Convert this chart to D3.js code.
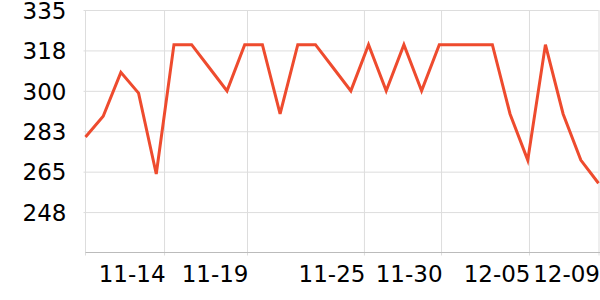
<!DOCTYPE html>
<html>
<head>
<meta charset="utf-8">
<script src="https://cdn.jsdelivr.net/npm/d3@7"></script>
<style>
  body { margin: 0; background: #fff; }
  svg { display: block; }
</style>
</head>
<body>
<div id="chart"></div>
<script>
// values, one per point (evenly spaced along x)
var values = [280, 289, 308, 299, 264, 320, 320, 310, 300, 320,
              320, 290, 320, 320, 310, 300, 320, 300, 320, 300,
              320, 320, 320, 320, 290, 270, 320, 290, 270, 260];
// x tick labels and where they sit (in point index units)
var xTickLabels = ["11-14", "11-19", "11-25", "11-30", "12-05", "12-09"];
var xTickPos = [4.44, 9.13, 15.74, 20.1, 25.07, 29];
var yTicks = [247.5, 265, 282.5, 300, 317.5, 335];

var w = 600, h = 300;
var mLeft = 85.5, mRight = 598.5, mTop = 10, mBottom = 252.5;
var font = "'DejaVu Sans', sans-serif";

var svg = d3.select("#chart").append("svg")
    .attr("width", w)
    .attr("height", h);

var x = d3.scaleLinear().domain([0, values.length - 1]).range([mLeft, mRight]);
var y = d3.scaleLinear().domain([230, 335]).range([mBottom, mTop]);

// horizontal grid + y labels
var yAxis = d3.axisLeft(y)
    .tickValues(yTicks)
    .tickSize(-(mRight - mLeft))
    .tickPadding(19)
    .tickFormat(function(d){ return Math.round(d); });
var gy = svg.append("g")
    .attr("transform", "translate(" + mLeft + ",0)")
    .call(yAxis)
    .attr("font-family", font)
    .attr("font-size", 23);
gy.select(".domain").remove();
gy.selectAll(".tick line").attr("stroke", "#ddd").attr("x1", -2);
gy.selectAll(".tick text")
    .attr("fill", "#000")
    .attr("dy", "0.36em");

// vertical grid + x labels
var xAxis = d3.axisBottom(x)
    .tickValues(xTickPos)
    .tickSize(-(mBottom - mTop))
    .tickFormat(function(d, i){ return xTickLabels[i]; });
var gx = svg.append("g")
    .attr("transform", "translate(0," + mBottom + ")")
    .call(xAxis)
    .attr("font-family", font)
    .attr("font-size", 23);
gx.select(".domain").remove();
gx.selectAll(".tick line").attr("stroke", "#ddd").attr("y1", 3);
gx.selectAll(".tick text")
    .attr("fill", "#000")
    .attr("text-anchor", "end")
    .attr("x", 1)
    .attr("y", 13)
    .attr("dy", "0.71em");

// left vertical line and bottom axis line
svg.append("line")
    .attr("x1", mLeft).attr("x2", mLeft)
    .attr("y1", mTop).attr("y2", mBottom + 3)
    .attr("stroke", "#ddd");
svg.append("line")
    .attr("x1", mLeft).attr("x2", w)
    .attr("y1", mBottom).attr("y2", mBottom)
    .attr("stroke", "#bbb");

var line = d3.line()
    .x(function(d, i){ return x(i); })
    .y(function(d){ return y(d); });

svg.append("path")
    .datum(values)
    .attr("d", line)
    .attr("fill", "none")
    .attr("stroke", "#ee4b2e")
    .attr("stroke-width", 3)
    .attr("stroke-linejoin", "miter");
</script>
</body>
</html>
